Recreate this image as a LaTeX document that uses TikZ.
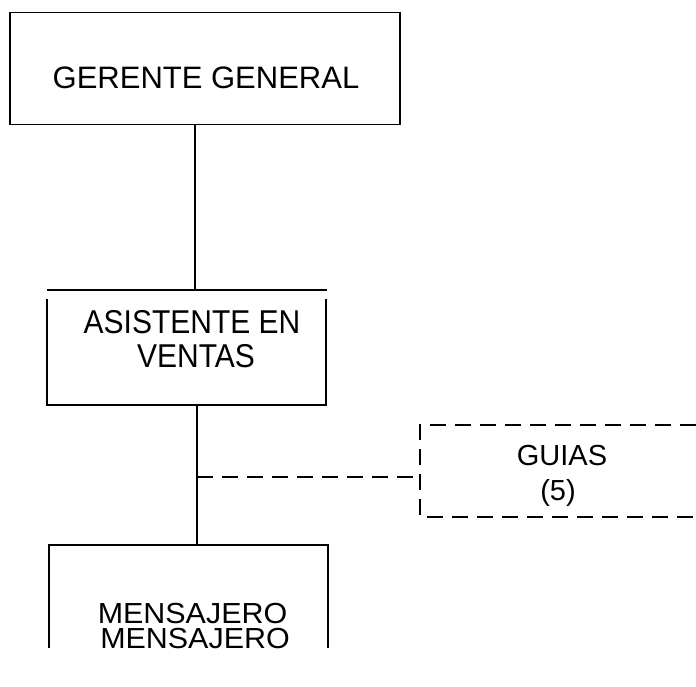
\documentclass[tikz,border=0pt]{standalone}
\usepackage{fontspec}
\usepackage{graphicx}
\setmainfont{Liberation Sans}
\usetikzlibrary{calc}
\begin{document}
\begin{tikzpicture}[x=1pt,y=-1pt,
  line width=1.4pt,
  boxshape/.style={rectangle, inner sep=0pt, outer sep=0pt},
  lbl/.style={inner sep=0pt, anchor=base, font=\fontsize{31}{33}\selectfont},
  albl/.style={inner sep=0pt, anchor=base, font=\fontsize{30}{33}\selectfont},
  mlbl/.style={inner sep=0pt, anchor=base, font=\fontsize{29}{30}\selectfont},
  glbl/.style={inner sep=0pt, anchor=base, font=\fontsize{29}{30}\selectfont},
  dashline/.style={dash pattern=on 16pt off 9pt}]
\useasboundingbox (0,0) rectangle (696,686);
% Gerente general
\node[boxshape, draw, minimum width=390pt, minimum height=111.6pt] (gg) at (205,68.5) {};
\node[lbl] (ggt) at (206,88) {GERENTE GENERAL};
% Asistente en ventas
\node[boxshape, minimum width=279pt, minimum height=115pt] (as) at (186.5,347.5) {};
\draw (as.north west) -- ($(as.north east)+(1,0)$);
\draw ($(as.north west)+(0,9)$) -- (as.south west) -- (as.south east) -- ($(as.north east)+(0,9)$);
\node[albl] (ast1) at (192,333) {\scalebox{1}[1.1]{ASISTENTE EN}};
\node[albl] (ast2) at (196,367) {\scalebox{1}[1.1]{VENTAS}};
% Guias
\node[boxshape, minimum width=276pt, minimum height=92pt] (gu) at (558,471) {};
\draw[dashline] (gu.north east) -- (gu.north west) -- (gu.south west) -- (gu.south east);
\node[glbl] (gut1) at (562,465) {GUIAS};
\node[glbl] (gut2) at (558,500) {(5)};
% Mensajero
\node[boxshape, minimum width=279pt, minimum height=103pt] (me) at (188.5,596.5) {};
\draw (me.south west) -- (me.north west) -- (me.north east) -- (me.south east);
\node[mlbl] (met1) at (192.5,623) {\scalebox{1.05}[1]{MENSAJERO}};
\node[mlbl] (met2) at (195,648) {\scalebox{1.05}[1]{MENSAJERO}};
% Connectors
\draw ([xshift=-10pt]gg.south) -- ([xshift=8.5pt]as.north);
\draw ([xshift=10.5pt]as.south) -- ([xshift=8.5pt]me.north);
\coordinate (jn) at (197,477);
\draw[dashline] (jn) -- (jn -| gu.west);
\end{tikzpicture}
\end{document}
